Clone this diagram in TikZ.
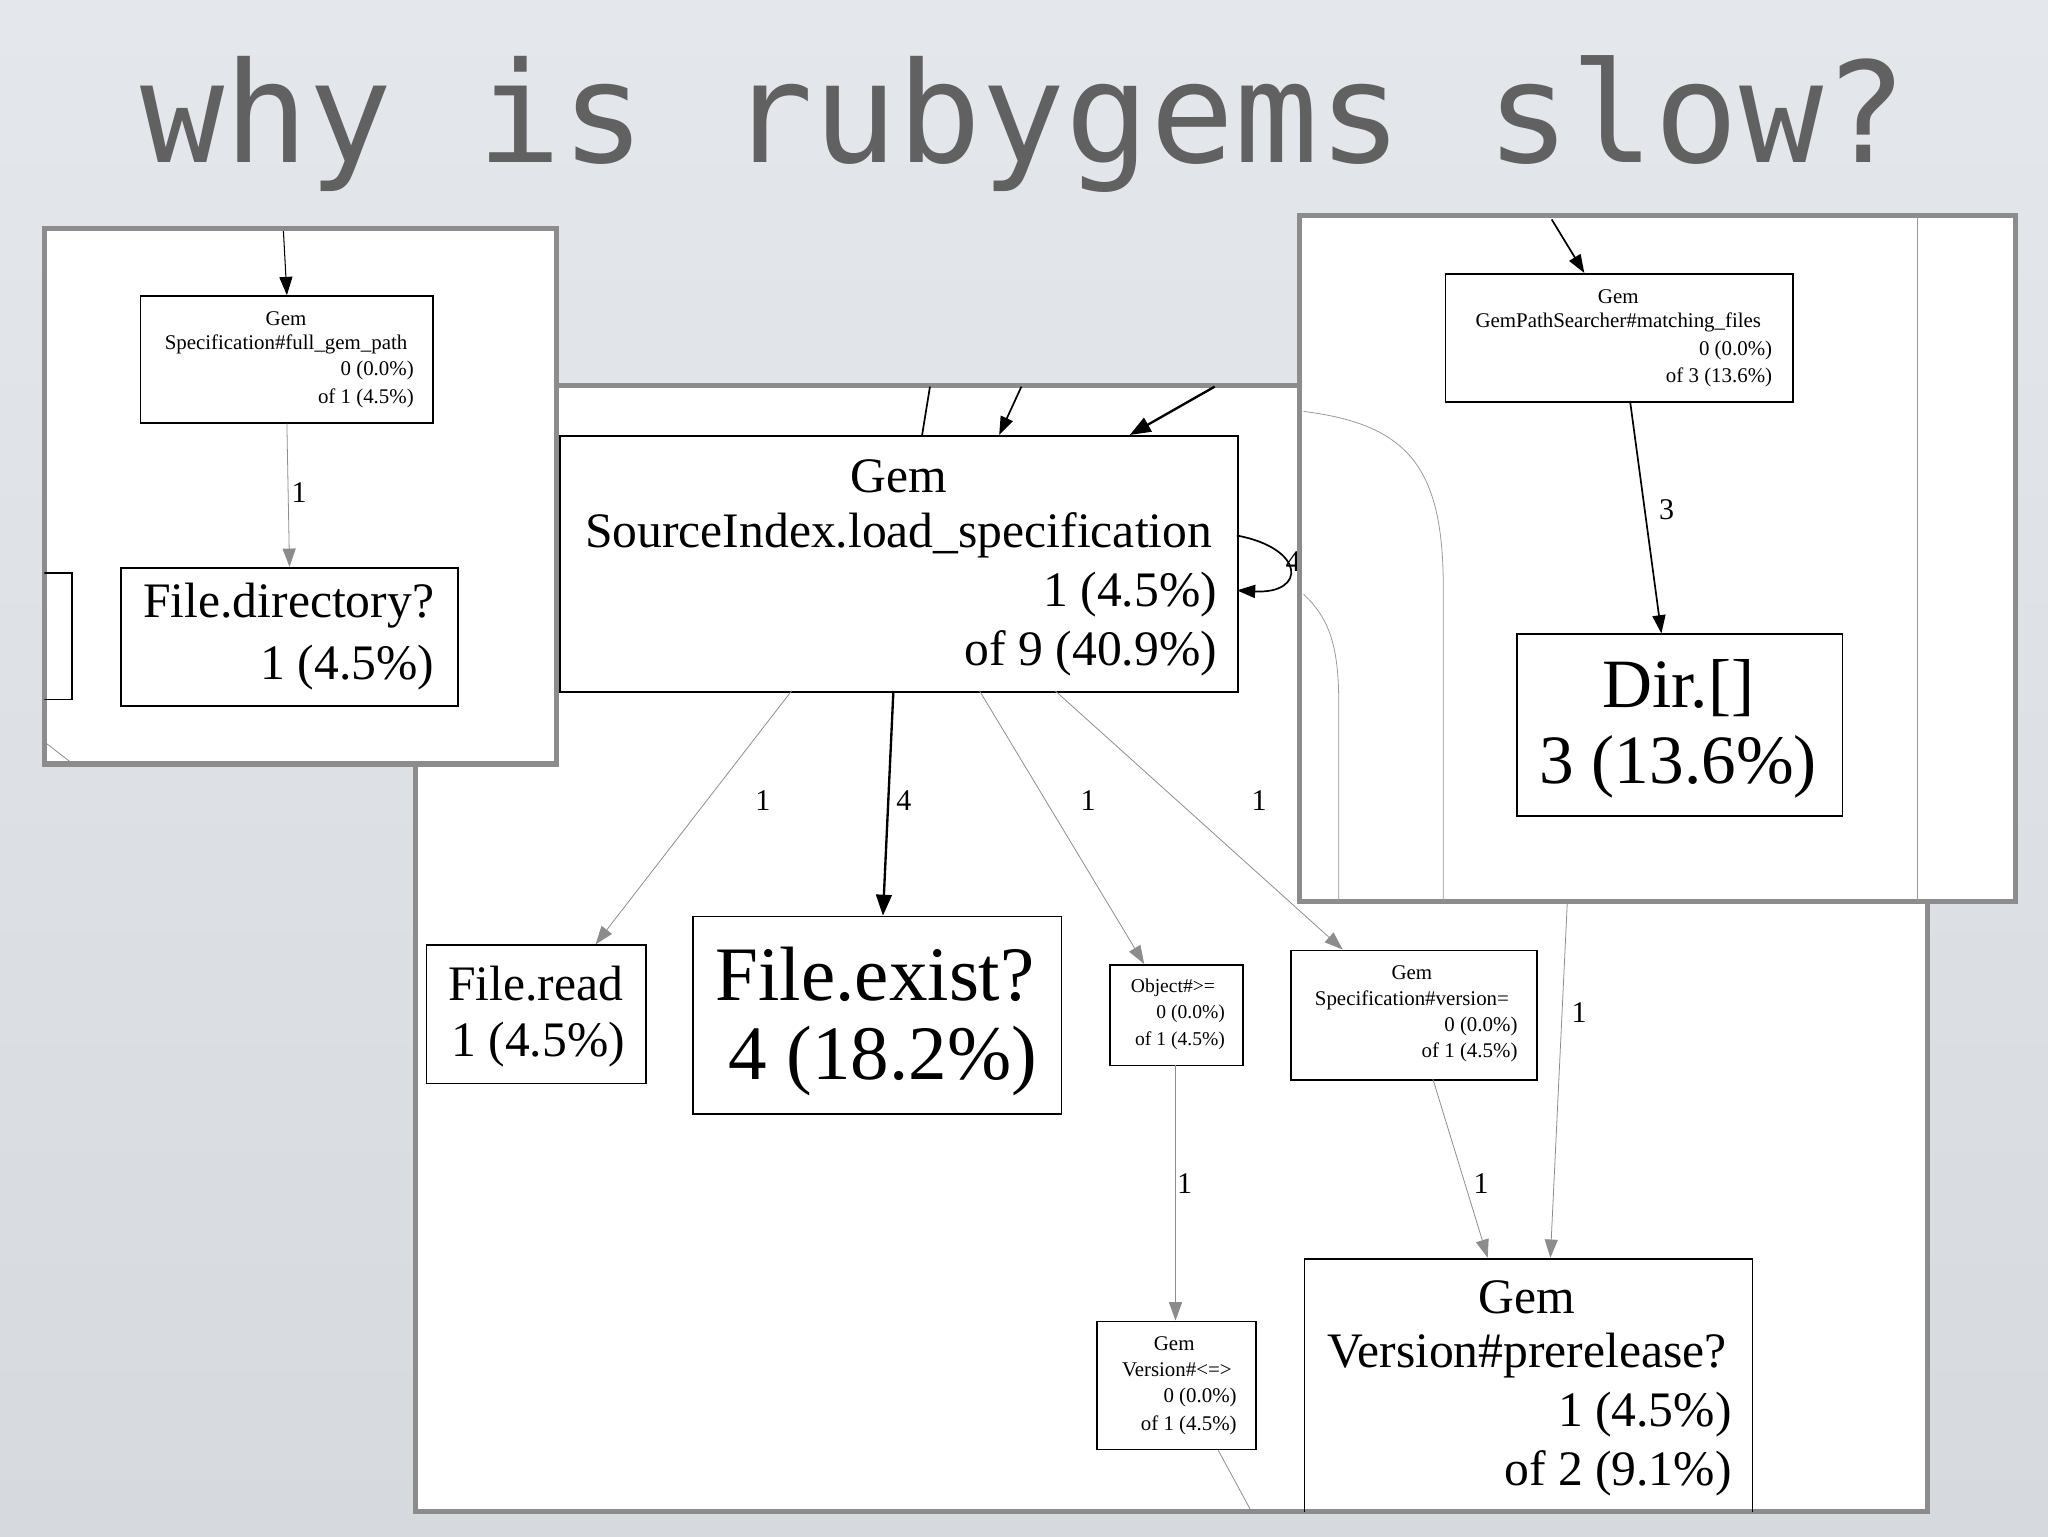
\documentclass[tikz,border=0pt]{standalone}
\usepackage{fontspec}
\setmainfont{Liberation Serif}
\newfontfamily\monof{DejaVu Sans Mono}
\usetikzlibrary{arrows.meta}
\definecolor{bgtop}{HTML}{E4E7EB}
\definecolor{bgbot}{HTML}{D6D9DE}
\begin{document}
\begin{tikzpicture}[x=1pt,y=-1pt,
 panel/.style={draw=black!45,line width=4pt,fill=white},
 box/.style={draw=black,line width=1.3pt,inner sep=0pt},
 txt/.style={inner sep=0pt,font=\fontsize{#1}{#1}\selectfont},
 thin/.style={draw=black!45,line width=0.6pt,-{Triangle[length=14pt,width=10pt]}},
 thick/.style={draw=black,line width=1.8pt,-{Triangle[length=16pt,width=12pt]}},
 lab/.style={inner sep=0pt,font=\fontsize{23}{23}\selectfont}]
\shade[top color=bgtop, bottom color=bgbot] (0,0) rectangle (1568,1176);
\useasboundingbox (0,0) rectangle (1568,1176);
\node[txt=107,text=black!62,font=\monof\fontsize{107}{107}\selectfont] (title) at (784,95) {why is rubygems slow?};
% main panel
\draw[panel] (318,295) rectangle (1476,1157);
\begin{scope}
\clip (318,295) rectangle (1476,1157);
\node[box,minimum width=519,minimum height=196,anchor=north west] (si) at (428,333) {};
\node[txt=38] at (688,365) {Gem};
\node[txt=38] at (688,410) {SourceIndex.load\_specification};
\node[txt=38,anchor=east] at (932,455) {1 (4.5\%)};
\node[txt=38,anchor=east] at (932,500) {of 9 (40.9\%)};
\node[box,minimum width=168,minimum height=106,anchor=north west] (fr) at (326,723) {};
\node[txt=38] at (410,753) {File.read};
\node[txt=38] at (412,800) {1 (4.5\%)};
\node[box,minimum width=282,minimum height=151,anchor=north west] (fe) at (530,701) {};
\node[txt=59] at (670,746) {File.exist?};
\node[txt=59] at (676,812) {4 (18.2\%)};
\node[box,minimum width=102,minimum height=77,anchor=north west] (ob) at (849,738) {};
\node[txt=15] at (898,756) {Object\#>=};
\node[txt=15,anchor=east] at (938,776) {0 (0.0\%)};
\node[txt=15,anchor=east] at (938,797) {of 1 (4.5\%)};
\node[box,minimum width=188,minimum height=99,anchor=north west] (sv) at (988,727) {};
\node[txt=16] at (1081,745) {Gem};
\node[txt=16] at (1081,766) {Specification\#version=};
\node[txt=16,anchor=east] at (1162,786) {0 (0.0\%)};
\node[txt=16,anchor=east] at (1162,806) {of 1 (4.5\%)};
\node[box,minimum width=122,minimum height=98,anchor=north west] (vc) at (839,1011) {};
\node[txt=16] at (899,1029) {Gem};
\node[txt=16] at (901,1049) {Version\#<=>};
\node[txt=16,anchor=east] at (947,1070) {0 (0.0\%)};
\node[txt=16,anchor=east] at (947,1091) {of 1 (4.5\%)};
\node[box,minimum width=343,minimum height=215,anchor=north west] (vp) at (998,963) {};
\node[txt=38] at (1169,993) {Gem};
\node[txt=38] at (1169,1038) {Version\#prerelease?};
\node[txt=38,anchor=east] at (1326,1083) {1 (4.5\%)};
\node[txt=38,anchor=east] at (1326,1128) {of 2 (9.1\%)};
\coordinate (t1) at (712,296); \coordinate (t1e) at (706,333);
\coordinate (t2) at (782,296); \coordinate (t3) at (930,296);
\draw[black,line width=1.3pt] (t1) -- (t1e);
\draw[black,line width=1.3pt,-{Triangle[length=14pt,width=10pt]}] (t2) -- (765,333);
\draw[thick] (t3) -- (865,333);
\draw[black,line width=1.3pt,-{Triangle[length=14pt,width=10pt]}] (947,410) .. controls (1000,420) and (1000,455) .. (947,452);
\node[lab] at (990,430) {4};
\draw[thin] (606,529) -- (456,723);
\draw[thick] (684,529) -- (676,701);
\draw[thin] (750,529) -- (876,738);
\draw[thin] (808,529) -- (1028,727);
\node[lab] at (584,613) {1};
\node[lab] at (692,613) {4};
\node[lab] at (833,613) {1};
\node[lab] at (964,613) {1};
\draw[thin] (900,815) -- (900,1011);
\node[lab] at (907,906) {1};
\draw[thin] (1097,826) -- (1139,963);
\node[lab] at (1134,906) {1};
\coordinate (up) at (1200,690);
\draw[thin] (up) -- (1187,963);
\node[lab] at (1209,775) {1};
\draw[black!45,line width=0.6pt] (vc.south) ++(32,0) -- (958,1157);
\end{scope}
% left panel
\draw[panel] (34,175) rectangle (426,585);
\begin{scope}
\clip (34,175) rectangle (426,585);
\node[box,minimum width=224,minimum height=97,anchor=north west] (fg) at (107,226) {};
\node[txt=16] at (219,244) {Gem};
\node[txt=16] at (219,264) {Specification\#full\_gem\_path};
\node[txt=16,anchor=east] at (317,284) {0 (0.0\%)};
\node[txt=16,anchor=east] at (317,305) {of 1 (4.5\%)};
\node[box,minimum width=258,minimum height=106,anchor=north west] (fd) at (92,434) {};
\node[txt=38] at (221,464) {File.directory?};
\node[txt=38] at (266,511) {1 (4.5\%)};
\node[box,minimum width=40,minimum height=97,anchor=north east] (px) at (56,438) {};
\coordinate (lt) at (217,177);
\draw[black,line width=0.8pt,-{Triangle[length=14pt,width=10pt]}] (lt) -- (fg.north);
\draw[black!45,line width=0.6pt,-{Triangle[length=14pt,width=10pt]}] (fg.south) -- (fd.north);
\node[lab] at (229,377) {1};
\draw[black!45,line width=0.6pt] (34,568) -- (56,585);
\end{scope}
% right panel
\draw[panel] (995,165) rectangle (1543,690);
\begin{scope}
\clip (995,165) rectangle (1543,690);
\draw[black!40,line width=0.6pt] (998,315) .. controls (1080,325) and (1105,360) .. (1105,450) -- (1105,692);
\draw[black!40,line width=0.6pt] (998,455) .. controls (1020,475) and (1025,500) .. (1025,540) -- (1025,692);
\draw[black!40,line width=0.6pt] (1468,165) -- (1468,692);
\node[box,minimum width=266,minimum height=98,anchor=north west] (gp) at (1106,209) {};
\node[txt=16] at (1239,227) {Gem};
\node[txt=16] at (1239,247) {GemPathSearcher\#matching\_files};
\node[txt=16,anchor=east] at (1357,268) {0 (0.0\%)};
\node[txt=16,anchor=east] at (1357,289) {of 3 (13.6\%)};
\node[box,minimum width=249,minimum height=139,anchor=north west] (dir) at (1161,485) {};
\node[txt=53] at (1285,527) {Dir.[]};
\node[txt=53] at (1285,587) {3 (13.6\%)};
\coordinate (rt) at (1188,168);
\draw[black,line width=1.3pt,-{Triangle[length=14pt,width=10pt]}] (rt) -- (1213,209);
\draw[black,line width=1.3pt,-{Triangle[length=14pt,width=10pt]}] (1248,307) -- (1272,485);
\node[lab] at (1276,390) {3};
\end{scope}
\end{tikzpicture}
\end{document}
